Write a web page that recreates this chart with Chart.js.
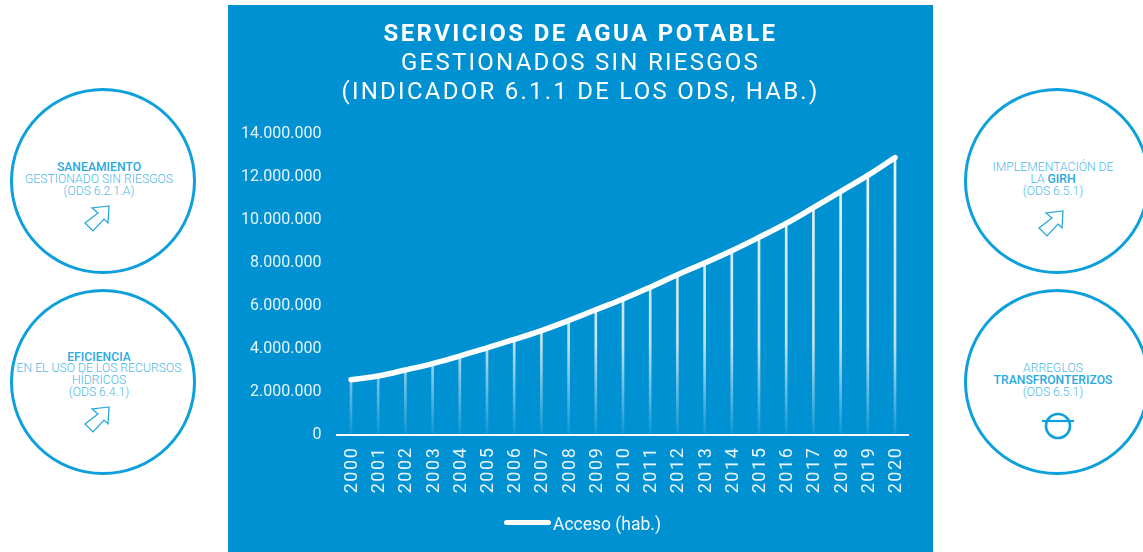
<!DOCTYPE html>
<html lang="es">
<head>
<meta charset="utf-8">
<title>Servicios de agua potable</title>
<script src="https://cdn.jsdelivr.net/npm/chart.js@4"></script>
<style>
    html, body { margin: 0; padding: 0; background: #fff; }
    body { position: relative; width: 1143px; height: 552px; overflow: hidden; font-family: Roboto, sans-serif; }
    #panel { position: absolute; left: 228px; top: 5px; width: 705px; height: 547px; background: #0091d2; }
    #chart { position: absolute; left: 0; top: 0; }
    #title { position: absolute; left: 0; top: 14px; width: 705px; text-align: center; color: #fff; font-size: 24px; line-height: 29px; letter-spacing: 2.25px; font-weight: 400; }
    #title b { font-weight: 700; letter-spacing: 2.4px; }
    #legend { position: absolute; left: 276px; top: 509px; height: 21px; color: #eef8fd; font-size: 17.5px; line-height: 21px; white-space: nowrap; }
    #legend i { display: inline-block; width: 47px; height: 5px; margin-right: 2px; border-radius: 2.5px; background: #fff; vertical-align: 5px; }
    .circle { position: absolute; width: 180px; height: 180px; border: 3px solid #0ea0dc; border-radius: 50%; }
    .circle p { position: absolute; left: -4px; width: 100%; margin: 0; text-align: center; color: #50b8e6; font-size: 12.2px; line-height: 11.9px; font-weight: 300; }
    .circle b { color: #2aa9e1; font-weight: 500; }
    .circle svg { position: absolute; overflow: visible; }
</style>
</head>
<body>
<div class="circle" style="left:10px;top:88px">
    <p style="top:71px"><b>SANEAMIENTO</b><br>GESTIONADO SIN RIESGOS<br>(ODS 6.2.1.A)</p>
    <svg style="left:71px;top:114px" width="28" height="28"><path d="M25 1 L8 3 L14 8 L1 18 L9 26 L20 14 L24 18 Z" fill="none" stroke="#1ba4de" stroke-width="1.2"/></svg>
</div>
<div class="circle" style="left:10px;top:289px">
    <p style="top:59.5px"><b>EFICIENCIA</b><br>EN EL USO DE LOS RECURSOS<br>HÍDRICOS<br>(ODS 6.4.1)</p>
    <svg style="left:71px;top:114px" width="28" height="28"><path d="M25 1 L8 3 L14 8 L1 18 L9 26 L20 14 L24 18 Z" fill="none" stroke="#1ba4de" stroke-width="1.2"/></svg>
</div>
<div class="circle" style="left:964px;top:88px">
    <p style="top:71px">IMPLEMENTACIÓN DE<br>LA <b>GIRH</b><br>(ODS 6.5.1)</p>
    <svg style="left:71px;top:119px" width="28" height="28"><path d="M25 1 L8 3 L14 8 L1 18 L9 26 L20 14 L24 18 Z" fill="none" stroke="#1ba4de" stroke-width="1.2"/></svg>
</div>
<div class="circle" style="left:964px;top:289px">
    <p style="top:71px">ARREGLOS<br><b>TRANSFRONTERIZOS</b><br>(ODS 6.5.1)</p>
    <svg style="left:74px;top:120px" width="34" height="28"><circle cx="17" cy="14" r="12" fill="none" stroke="#0ea0dc" stroke-width="2.6"/><line x1="1" y1="9" x2="33" y2="9" stroke="#0ea0dc" stroke-width="2.2"/></svg>
</div>
<div id="panel">
    <canvas id="chart" width="705" height="547"></canvas>
    <div id="title"><b>SERVICIOS DE AGUA POTABLE</b><br>GESTIONADOS SIN RIESGOS<br>(INDICADOR 6.1.1 DE LOS ODS, HAB.)</div>
    <div id="legend"></div>
</div>
<script>
    const years = ['2000', '2001', '2002', '2003', '2004', '2005', '2006', '2007', '2008', '2009', '2010',
        '2011', '2012', '2013', '2014', '2015', '2016', '2017', '2018', '2019', '2020'];
    const acceso = [2550000, 2720000, 3000000, 3300000, 3650000, 4030000, 4420000, 4830000, 5300000, 5800000, 6300000,
        6850000, 7430000, 7980000, 8550000, 9170000, 9820000, 10550000, 11300000, 12050000, 12880000];
    const yMax = 14000000;
    const yStep = 2000000;

    // the year labels are spaced out in the original, the library has no option for it
    class SpacedCategoryScale extends Chart.CategoryScale {
        drawLabels(chartArea) {
            this.ctx.save();
            this.ctx.letterSpacing = '1.6px';
            this.ctx.translate(1.5, 0);
            super.drawLabels(chartArea);
            this.ctx.restore();
        }
    }
    SpacedCategoryScale.id = 'spacedCategory';
    SpacedCategoryScale.defaults = Chart.CategoryScale.defaults;
    Chart.register(SpacedCategoryScale);

    let fade = null;
    function getFade(chart) {
        if (!fade && chart.chartArea) {
            const area = chart.chartArea;
            fade = chart.ctx.createLinearGradient(0, area.top, 0, area.bottom);
            fade.addColorStop(0, 'rgba(255,255,255,0.95)');
            fade.addColorStop(0.7, 'rgba(255,255,255,0.75)');
            fade.addColorStop(1, 'rgba(255,255,255,0.05)');
        }
        return fade;
    }

    const chart = new Chart(document.getElementById('chart'), {
        data: {
            labels: years,
            datasets: [{
                type: 'line',
                label: 'Acceso (hab.)',
                data: acceso,
                borderColor: '#fff',
                backgroundColor: '#fff',
                borderWidth: 5.5,
                borderCapStyle: 'round',
                tension: 0.4,
                pointRadius: 0,
                order: 1
            }, {
                type: 'bar',
                label: 'Líneas',
                data: acceso,
                backgroundColor: context => getFade(context.chart),
                barThickness: 2,
                order: 2
            }]
        },
        options: {
            responsive: false,
            animation: false,
            layout: { padding: { top: 128.5, left: 0, right: 24.4, bottom: 0 } },
            plugins: {
                tooltip: { enabled: false },
                legend: { display: false }
            },
            scales: {
                x: {
                    type: 'spacedCategory',
                    grid: { display: false, drawTicks: false },
                    border: { color: '#fff', width: 2 },
                    ticks: {
                        color: '#e6f4fb',
                        font: { family: 'Roboto', size: 18 },
                        minRotation: 90,
                        maxRotation: 90,
                        padding: 12,
                        autoSkip: false
                    },
                    afterFit: scale => { scale.height = 117.5; }
                },
                y: {
                    min: 0,
                    max: yMax,
                    grid: { display: false, drawTicks: false },
                    border: { display: false },
                    ticks: {
                        stepSize: yStep,
                        color: '#e6f4fb',
                        font: { family: 'Roboto', size: 16 },
                        padding: 16,
                        callback: value => value.toLocaleString('de-DE')
                    },
                    afterFit: scale => { scale.width = 109.4; }
                }
            }
        }
    });

    document.getElementById('legend').innerHTML = `<i></i>${chart.data.datasets[0].label}`;
</script>
</body>
</html>
